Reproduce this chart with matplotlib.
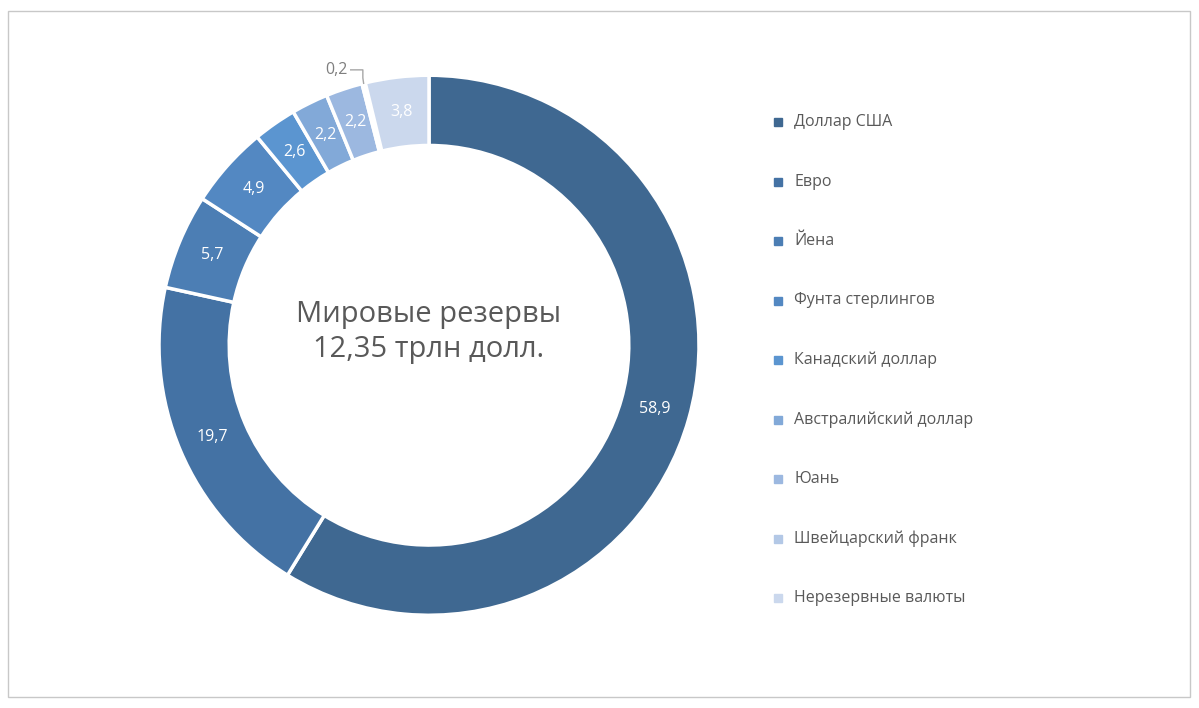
import matplotlib.pyplot as plt
import numpy as np
from matplotlib.patches import Rectangle

categories = ["Доллар США", "Евро", "Йена", "Фунта стерлингов", "Канадский доллар",
              "Австралийский доллар", "Юань", "Швейцарский франк", "Нерезервные валюты"]
values = [58.9, 19.7, 5.7, 4.9, 2.6, 2.2, 2.2, 0.2, 3.8]
labels = ["58,9", "19,7", "5,7", "4,9", "2,6", "2,2", "2,2", "0,2", "3,8"]
colors = ["#3F6891", "#4472A4", "#4C7EB4", "#5388C2", "#5B95D0",
          "#82A9D8", "#9CB8E0", "#B3C8E6", "#CBD8ED"]

plt.rcParams["font.family"] = "Open Sans"
fig = plt.figure(figsize=(11.99, 7.08), dpi=100)
fig.patches.append(Rectangle((8/1199, 11/708), 1182/1199, 686/708, transform=fig.transFigure,
                             fill=False, edgecolor="#C8C8C8", lw=1))
ax = fig.add_axes([0.1326, 0.131, 0.4504, 0.7627])
wedges, _ = ax.pie(values, colors=colors, startangle=90, counterclock=False, radius=1,
                   wedgeprops=dict(width=0.26, edgecolor="white", linewidth=2.5))
ax.set_xlim(-1, 1); ax.set_ylim(-1, 1); ax.set_aspect("equal")

total = sum(values)
cum = 0
for v, lab, w in zip(values, labels, wedges):
    mid = 90 - (cum + v / 2) / total * 360
    cum += v
    a = np.deg2rad(mid)
    if lab == "0,2":
        x0, y0 = np.cos(a), np.sin(a)
        ax.plot([x0, -0.245, -0.245, -0.29], [y0, y0 + 0.02, 1.02, 1.02], color="#A6A6A6", lw=1, clip_on=False)
        ax.text(-0.30, 1.02, lab, ha="right", va="center", color="#7F7F7F", fontsize=11.5)
    else:
        r = 0.87
        ax.text(r * np.cos(a), r * np.sin(a), lab, ha="center", va="center", color="white", fontsize=11.5)

ax.text(0, 0.05, "Мировые резервы\n12,35 трлн долл.", ha="center", va="center",
        color="#595959", fontsize=21, linespacing=1.25)

for i, (c, col) in enumerate(zip(categories, colors)):
    y = 1 - (122 + i * 59.5) / 708
    fig.patches.append(Rectangle((774/1199, y - 4/708), 8/1199, 8/708, transform=fig.transFigure,
                                 color=col))
    fig.text(794/1199, y, c, ha="left", va="center", color="#595959", fontsize=11.5)

fig.savefig("out.png", dpi=100)
